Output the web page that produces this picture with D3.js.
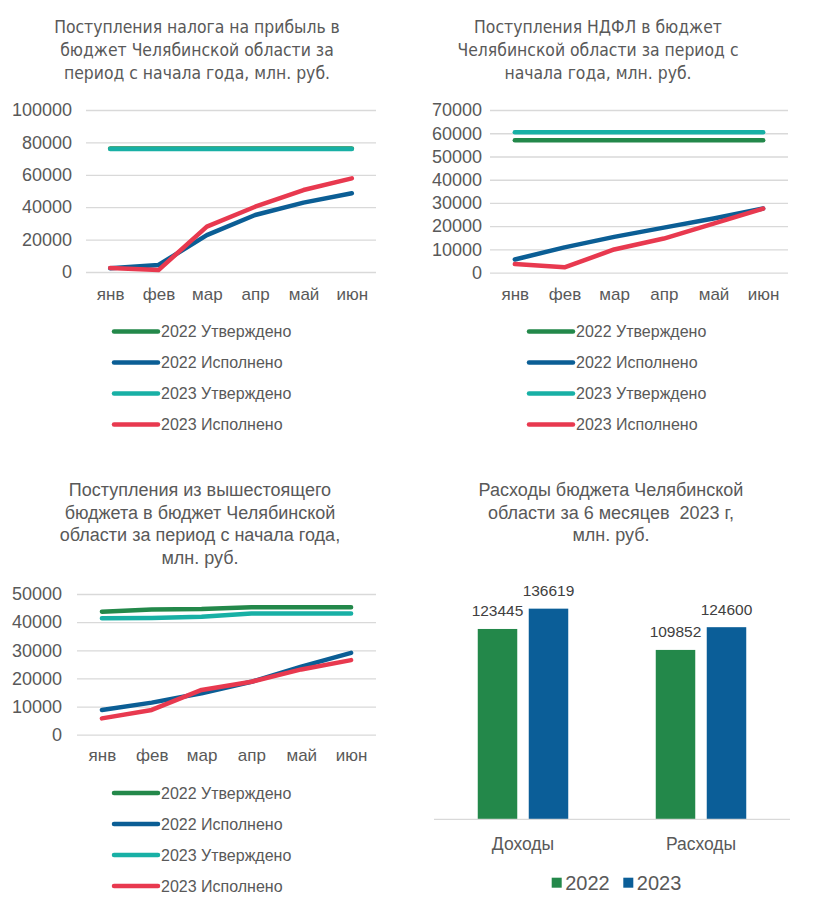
<!DOCTYPE html>
<html>
<head>
<meta charset="utf-8">
<script src="https://cdn.jsdelivr.net/npm/d3@7"></script>
<style>
  html, body { margin: 0; padding: 0; background: #fff; }
  svg { display: block; }
</style>
</head>
<body>
<svg id="chart" width="813" height="913"></svg>
<script>
// ---------- DATA ----------
const months = ["янв", "фев", "мар", "апр", "май", "июн"];
const seriesNames = ["2022 Утверждено", "2022 Исполнено", "2023 Утверждено", "2023 Исполнено"];

// Panel 1: налог на прибыль
const profitTicks = [0, 20000, 40000, 60000, 80000, 100000];
const profit2022Plan = [76300, 76300, 76300, 76300, 76300, 76300];
const profit2022Fact = [2300, 4300, 22800, 35200, 42800, 48600];
const profit2023Plan = [76000, 76000, 76000, 76000, 76000, 76000];
const profit2023Fact = [2500, 1200, 28000, 40300, 50600, 57800];

// Panel 2: НДФЛ
const ndflTicks = [0, 10000, 20000, 30000, 40000, 50000, 60000, 70000];
const ndfl2022Plan = [57000, 57000, 57000, 57000, 57000, 57000];
const ndfl2022Fact = [5700, 10900, 15400, 19400, 23300, 27600];
const ndfl2023Plan = [60400, 60400, 60400, 60400, 60400, 60400];
const ndfl2023Fact = [3700, 2300, 10000, 14700, 21100, 27600];

// Panel 3: из вышестоящего бюджета
const transferTicks = [0, 10000, 20000, 30000, 40000, 50000];
const transfer2022Plan = [43700, 44500, 44700, 45300, 45300, 45300];
const transfer2022Fact = [8800, 11400, 14700, 18800, 24200, 29100];
const transfer2023Plan = [41400, 41500, 41900, 43100, 43100, 43100];
const transfer2023Fact = [5800, 8800, 15900, 18800, 23200, 26500];

// Panel 4: бюджет
const budgetCategories = ["Доходы", "Расходы"];
const budgetYears = ["2022", "2023"];
const budget2022 = [123445, 109852];
const budget2023 = [136619, 124600];

// ---------- STYLE ----------
const lineColors = ["#23884a", "#0b5e95", "#18b0a5", "#e8394f"];
const barColors = ["#23884a", "#0b5e98"];
const textColor = "#595959";
const gridColor = "#d9d9d9";
const sansFont = "'Liberation Sans', Arial, sans-serif";
const narrowFont = "'Liberation Sans Narrow', 'DejaVu Sans Condensed', sans-serif";

const svg = d3.select("#chart");

function title(lines, cx, y0, step, font, size) {
  const t = svg.append("text")
    .attr("text-anchor", "middle")
    .attr("fill", textColor)
    .style("font-family", font)
    .style("font-size", size + "px")
    .style("white-space", "pre");
  lines.forEach((l, i) => {
    t.append("tspan").attr("x", cx).attr("y", y0 + i * step).text(l);
  });
}

function linePanel(cfg) {
  const g = svg.append("g");
  const x = d3.scalePoint().domain(months).range([cfg.x0, cfg.x1]).padding(0.5);
  const y = d3.scaleLinear().domain([0, d3.max(cfg.ticks)]).range([cfg.yBottom, cfg.yTop]);

  const yAxis = d3.axisLeft(y).tickValues(cfg.ticks).tickSize(-(cfg.x1 - cfg.x0)).tickPadding(cfg.labelPad).tickFormat(d3.format("d"));
  const ga = g.append("g").attr("transform", `translate(${cfg.x0},0)`).call(yAxis);
  ga.select(".domain").remove();
  ga.selectAll(".tick line").attr("stroke", gridColor).attr("stroke-width", 1.3);
  ga.selectAll(".tick text").attr("fill", textColor)
    .style("font-family", sansFont).style("font-size", "18px");

  const xAxis = d3.axisBottom(x).tickSize(0).tickPadding(0);
  const gx = g.append("g").attr("transform", `translate(0,${cfg.xLabelY})`).call(xAxis);
  gx.select(".domain").remove();
  gx.selectAll(".tick text").attr("fill", textColor).attr("dy", "0.35em")
    .style("font-family", sansFont).style("font-size", "17px");

  const line = d3.line().x((d, i) => x(months[i])).y(d => y(d));
  cfg.series.forEach((s, i) => {
    g.append("path").datum(s)
      .attr("d", line)
      .attr("fill", "none")
      .attr("stroke", lineColors[i])
      .attr("stroke-width", 4.5)
      .attr("stroke-linecap", "round")
      .attr("stroke-linejoin", "round");
  });

  const lg = g.append("g");
  seriesNames.forEach((n, i) => {
    const yy = cfg.legendY + i * cfg.legendStep;
    lg.append("line")
      .attr("x1", cfg.legendX).attr("x2", cfg.legendX + 44)
      .attr("y1", yy).attr("y2", yy)
      .attr("stroke", lineColors[i]).attr("stroke-width", 4.5)
      .attr("stroke-linecap", "round");
    lg.append("text")
      .attr("x", cfg.legendX + 47).attr("y", yy).attr("dy", "0.35em")
      .attr("fill", textColor)
      .style("font-family", sansFont).style("font-size", "16px")
      .text(n);
  });
}

// ---------- PANEL 1 ----------
title(["Поступления налога на прибыль в", "бюджет Челябинской области за", "период с начала года, млн. руб."],
  197, 33, 23, narrowFont, 17.4);
linePanel({
  x0: 86, x1: 376, yTop: 110, yBottom: 272, ticks: profitTicks, labelPad: 14,
  xLabelY: 294,
  series: [profit2022Plan, profit2022Fact, profit2023Plan, profit2023Fact],
  legendX: 114, legendY: 331.5, legendStep: 31
});

// ---------- PANEL 2 ----------
title(["Поступления НДФЛ в бюджет", "Челябинской области за период с", "начала года, млн. руб."],
  598, 33, 23, narrowFont, 17.4);
linePanel({
  x0: 490, x1: 788, yTop: 110, yBottom: 272.7, ticks: ndflTicks, labelPad: 8,
  xLabelY: 294,
  series: [ndfl2022Plan, ndfl2022Fact, ndfl2023Plan, ndfl2023Fact],
  legendX: 529, legendY: 331.5, legendStep: 31
});

// ---------- PANEL 3 ----------
title(["Поступления из вышестоящего", "бюджета в бюджет Челябинской", "области за период с начала года,", "млн. руб."],
  200, 496, 22.5, sansFont, 18);
linePanel({
  x0: 77, x1: 376, yTop: 594, yBottom: 734.7, ticks: transferTicks, labelPad: 15,
  xLabelY: 755,
  series: [transfer2022Plan, transfer2022Fact, transfer2023Plan, transfer2023Fact],
  legendX: 114, legendY: 793, legendStep: 31
});

// ---------- PANEL 4 ----------
title(["Расходы бюджета Челябинской", "области за 6 месяцев  2023 г,", "млн. руб."],
  611, 496, 22.5, sansFont, 18);
(function () {
  const g = svg.append("g");
  const x0 = d3.scaleBand().domain(budgetCategories).range([434, 790]);
  const x1 = d3.scaleBand().domain(budgetYears).range([0, x0.bandwidth()])
    .paddingInner(0.2255).paddingOuter(0.858);
  const y = d3.scaleLinear().domain([0, 160000]).range([819.3, 572.6]);
  const values = [budget2022, budget2023];

  budgetYears.forEach((yr, si) => {
    budgetCategories.forEach((c, ci) => {
      const v = values[si][ci];
      const bx = x0(c) + x1(yr);
      g.append("rect")
        .attr("x", bx).attr("width", x1.bandwidth())
        .attr("y", y(v)).attr("height", y(0) - y(v))
        .attr("fill", barColors[si]);
      g.append("text")
        .attr("x", bx + x1.bandwidth() / 2).attr("y", y(v) - 12.5)
        .attr("text-anchor", "middle").attr("fill", "#404040")
        .style("font-family", sansFont).style("font-size", "15.5px")
        .text(v);
    });
  });

  g.append("line").attr("x1", 434).attr("x2", 790).attr("y1", y(0)).attr("y2", y(0))
    .attr("stroke", gridColor).attr("stroke-width", 1.3);

  const xAxis = d3.axisBottom(x0).tickSize(0).tickPadding(0);
  const gx = g.append("g").attr("transform", "translate(0,843.5)").call(xAxis);
  gx.select(".domain").remove();
  gx.selectAll(".tick text").attr("fill", textColor).attr("dy", "0.35em")
    .style("font-family", sansFont).style("font-size", "17.5px");

  const legendXs = [551.7, 623.3];
  budgetYears.forEach((yr, i) => {
    g.append("rect").attr("x", legendXs[i]).attr("y", 877.7).attr("width", 10).attr("height", 10)
      .attr("fill", barColors[i]);
    g.append("text").attr("x", legendXs[i] + 13.5).attr("y", 882.7).attr("dy", "0.35em")
      .attr("fill", textColor)
      .style("font-family", sansFont).style("font-size", "20px")
      .text(yr);
  });
})();
</script>
</body>
</html>
